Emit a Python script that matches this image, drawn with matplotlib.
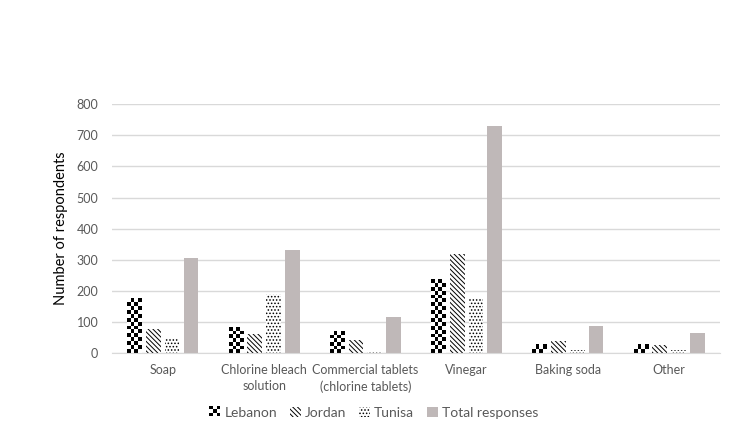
import numpy as np
import matplotlib
matplotlib.use("Agg")
import matplotlib.pyplot as plt
from matplotlib.patches import Patch, Rectangle

plt.rcParams['font.family'] = ['Lato', 'DejaVu Sans']
plt.rcParams['hatch.linewidth'] = 0.7

categories = ["Soap", "Chlorine bleach\nsolution", "Commercial tablets\n(chlorine tablets)",
              "Vinegar", "Baking soda", "Other"]
lebanon = [176, 83, 70, 235, 26, 27]
jordan = [77, 61, 42, 318, 40, 25]
tunisa = [50, 190, 3, 174, 10, 10]
total = [305, 332, 115, 730, 86, 64]
series_names = ["Lebanon", "Jordan", "Tunisa", "Total responses"]

total_color = "#bfb8b8"
grey_text = "#595959"
jordan_hatch = '\\' * 7
tunisa_hatch = '.' * 5

fig = plt.figure(figsize=(7.33, 4.36), dpi=100)
ax = fig.add_axes([0.153, 0.190, 0.829, 0.571])

x = np.arange(len(categories))
step = 0.185
width = 0.145
offsets = [-1.5 * step, -0.5 * step, 0.5 * step, 1.5 * step]

ax.set_xlim(-0.5, len(categories) - 0.5)
ax.set_ylim(0, 800)

leb_bars = ax.bar(x + offsets[0], lebanon, width, color='white', linewidth=0, zorder=2)
ax.bar(x + offsets[1], jordan, width, color='white', edgecolor='black', hatch=jordan_hatch,
       linewidth=0, zorder=2)
ax.bar(x + offsets[2], tunisa, width, color='white', edgecolor='black', hatch=tunisa_hatch,
       linewidth=0, zorder=2)
ax.bar(x + offsets[3], total, width, color=total_color, linewidth=0, zorder=2)

# checkerboard fill for Lebanon bars
fig.canvas.draw()
bbox = ax.get_window_extent()
px_x = bbox.width / (ax.get_xlim()[1] - ax.get_xlim()[0])
px_y = bbox.height / (ax.get_ylim()[1] - ax.get_ylim()[0])
cell = 3.8
for b in leb_bars:
    bx, by = b.get_x(), b.get_y()
    bw, bh = b.get_width(), b.get_height()
    nc = max(1, int(round(bw * px_x / cell)))
    nr = max(1, int(round(bh * px_y / cell)))
    ii, jj = np.indices((nr, nc))
    img = ((ii + jj) % 2).astype(float)
    ax.imshow(img, cmap='gray', extent=(bx, bx + bw, by, by + bh),
              origin='lower', interpolation='nearest', zorder=2.5, vmin=0, vmax=1)
ax.set_aspect('auto')
ax.set_xlim(-0.5, len(categories) - 0.5)
ax.set_ylim(0, 800)

ax.set_yticks(range(0, 801, 100))
ax.yaxis.grid(True, color='#d9d9d9', linewidth=1, zorder=0)
ax.set_axisbelow(True)
for s in ['top', 'right', 'left']:
    ax.spines[s].set_visible(False)
ax.spines['bottom'].set_color('#d9d9d9')
ax.tick_params(axis='y', length=0, labelsize=9, labelcolor=grey_text, pad=10)
ax.tick_params(axis='x', length=0, labelsize=9, labelcolor=grey_text, pad=8)
ax.set_xticks(x)
ax.set_xticklabels(categories, linespacing=1.35)
ax.set_ylabel("Number of respondents", fontsize=10.5, labelpad=6)


class CheckerHandler:
    def legend_artist(self, legend, orig_handle, fontsize, handlebox):
        x0, y0 = handlebox.xdescent, handlebox.ydescent
        w, h = handlebox.width, handlebox.height
        n = 3
        last = None
        for i in range(n):
            for j in range(n):
                if (i + j) % 2 == 0:
                    last = Rectangle((x0 + i * w / n, y0 + j * h / n), w / n, h / n,
                                     facecolor='black', edgecolor='none',
                                     transform=handlebox.get_transform())
                    handlebox.add_artist(last)
        return last


h_leb = Patch(facecolor='white', label=series_names[0])
h_jor = Patch(facecolor='white', edgecolor='black', hatch=jordan_hatch, linewidth=0, label=series_names[1])
h_tun = Patch(facecolor='white', edgecolor='black', hatch=tunisa_hatch, linewidth=0, label=series_names[2])
h_tot = Patch(facecolor=total_color, linewidth=0, label=series_names[3])
fig.legend(handles=[h_leb, h_jor, h_tun, h_tot], loc='center', bbox_to_anchor=(0.51, 0.053),
           ncol=4, frameon=False, fontsize=10, handlelength=0.8, handleheight=0.8,
           handletextpad=0.3, columnspacing=0.9, labelcolor=grey_text,
           handler_map={h_leb: CheckerHandler()})

fig.savefig("out.png", dpi=100)
